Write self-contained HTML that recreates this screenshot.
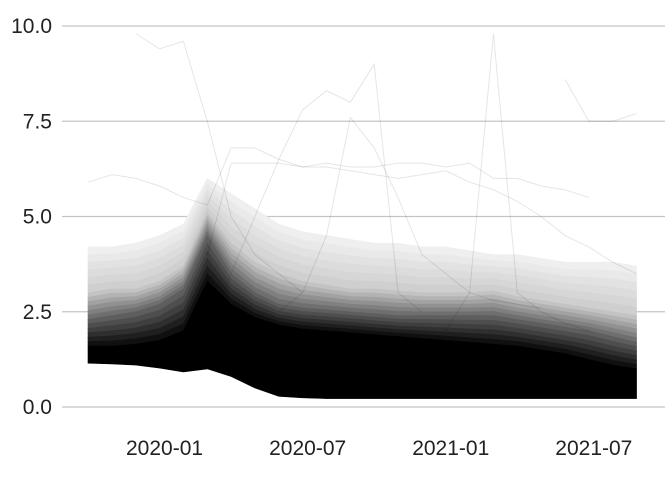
<!DOCTYPE html>
<html><head><meta charset="utf-8"><style>
html,body{margin:0;padding:0;background:#fff;}
svg text{font-family:"Liberation Sans",sans-serif;}
</style></head><body>
<svg id="chart" width="672" height="480" viewBox="0 0 672 480">
<g id="grid"></g>
<g id="bands"></g>
<g id="lines"></g>
<g id="yax"></g>
<g id="xax"></g>
</svg>
<script>
// monthly points 2019-10 .. 2021-09 (index 0..23)
const yTicks = [0, 2.5, 5, 7.5, 10];
const yTickLabels = ["0.0", "2.5", "5.0", "7.5", "10.0"];
const xTickMonths = [3, 9, 15, 21];
const xTickLabels = ["2020-01", "2020-07", "2021-01", "2021-07"];
const qLow  = [1.15,1.13,1.1,1.02,0.92,1.0,0.8,0.5,0.28,0.24,0.22,0.22,0.22,0.22,0.22,0.22,0.22,0.22,0.22,0.22,0.22,0.22,0.22,0.22];
const qMid  = [1.6,1.6,1.65,1.75,2.0,3.3,2.7,2.35,2.15,2.05,2.0,1.95,1.9,1.85,1.8,1.75,1.7,1.65,1.6,1.5,1.4,1.25,1.1,1.0];
const qHigh = [2.3,2.4,2.5,2.7,3.1,4.5,3.5,3.0,2.7,2.6,2.55,2.5,2.45,2.4,2.4,2.4,2.4,2.4,2.3,2.2,2.1,2.0,1.85,1.7];
const q90   = [3.0,3.1,3.1,3.3,3.7,5.1,4.3,3.8,3.5,3.3,3.2,3.1,3.1,3.05,3.0,3.0,3.0,3.05,2.9,2.8,2.7,2.6,2.5,2.4];
const q98   = [4.2,4.2,4.3,4.5,4.8,6.0,5.6,5.2,4.8,4.6,4.5,4.4,4.3,4.3,4.2,4.2,4.1,4.0,4.0,3.9,3.8,3.8,3.8,3.7];
const outlierA = [9.2,null,9.8,9.4,9.6,7.5,5.0,4.0,3.5,3.0,null,null,null,null,null,null,null,null,null,null,null,null,null,null];
const outlierB = [5.9,6.1,6.0,5.8,5.5,5.3,6.8,6.8,6.5,6.3,6.4,6.3,6.3,6.4,6.4,6.3,6.4,6.0,6.0,5.8,5.7,5.5,null,null];
const outlierC = [null,null,null,null,null,4.0,6.4,6.4,6.4,6.3,6.3,6.2,6.1,6.0,6.1,6.2,5.9,5.7,5.4,5.0,4.5,4.2,3.8,3.5];
const outlierD = [null,null,null,null,null,null,null,null,2.5,3.0,4.5,7.6,6.8,5.5,4.0,3.5,3.0,2.8,2.7,2.6,null,null,null,null];
const outlierE = [null,null,null,null,null,null,null,null,null,null,null,null,null,null,null,2.0,3.0,9.8,3.0,2.5,2.2,2.0,null,null];
const outlierF = [null,null,null,null,null,null,null,null,null,null,null,null,null,null,null,null,null,null,null,null,8.6,7.5,7.5,7.7];
const outlierG = [null,null,null,null,null,2.0,3.5,5.0,6.5,7.8,8.3,8.0,9.0,3.0,2.5,null,null,null,null,null,null,null,null,null];

const X0 = 88, XS = 23.85;
const xs = i => X0 + i * XS;
const ys = v => 407 - v * 38.1;
const NS = "http://www.w3.org/2000/svg";
function mk(tag, attrs, parent){const e=document.createElementNS(NS,tag);for(const k in attrs)e.setAttribute(k,attrs[k]);parent.appendChild(e);return e;}

const grid = document.getElementById('grid'), yax = document.getElementById('yax'), xax = document.getElementById('xax');
yTicks.forEach((t, k) => {
  const l = mk('line', {x1:62, x2:665, y1:ys(t), y2:ys(t), stroke:'#c4c4c4', 'stroke-width':1.2}, grid);
  
  
  const tx = mk('text', {x:52, y:ys(t)+7, 'text-anchor':'end', 'font-size':21, fill:'#222'}, yax);
  tx.textContent = yTickLabels[k];
  
  
});
xTickMonths.forEach((m, k) => {
  const tx = mk('text', {x:xs(m)+5, y:455, 'text-anchor':'middle', 'font-size':21, fill:'#222'}, xax);
  tx.textContent = xTickLabels[k];
  
  
});

const bands = document.getElementById('bands');
function area(lo, hi, op, name){
  let d = 'M' + lo.map((v,i)=>xs(i)+','+ys(v)).join('L');
  for (let i = hi.length-1; i >= 0; i--) d += 'L' + xs(i) + ',' + ys(hi[i]);
  const c = Math.round(255*(1-op));
  const col = 'rgb('+c+','+c+','+c+')';
  const p = mk('path', {d:d+'Z', fill:col, stroke:col, 'stroke-width':0.6}, bands);
  
  
}
function mix(a, b, t){ return a.map((v,i)=>v+(b[i]-v)*t); }
const steps = 6;
const pairs = [[q90,q98,0.2,0.05],[qHigh,q90,0.6,0.2],[qMid,qHigh,0.97,0.6]];
pairs.forEach(([a,b,o1,o2]) => {
  for (let s = steps-1; s >= 0; s--) {
    const lo = mix(a,b,s/steps), hi = mix(a,b,(s+1)/steps);
    area(lo, hi, o1 + (o2-o1)*(s+0.5)/steps, 'density-band');
  }
});
area(qLow, qMid, 1, 'density-core');

const lines = document.getElementById('lines');
[outlierA,outlierB,outlierC,outlierD,outlierE,outlierF,outlierG].forEach(s => {
  let d = '', pen = false;
  s.forEach((v,i) => { if (v === null) { pen = false; return; } d += (pen?'L':'M') + xs(i) + ',' + ys(v); pen = true; });
  const p = mk('path', {d:d, fill:'none', stroke:'#000', 'stroke-opacity':0.1, 'stroke-width':1}, lines);
  
  
});
</script>
</body></html>
